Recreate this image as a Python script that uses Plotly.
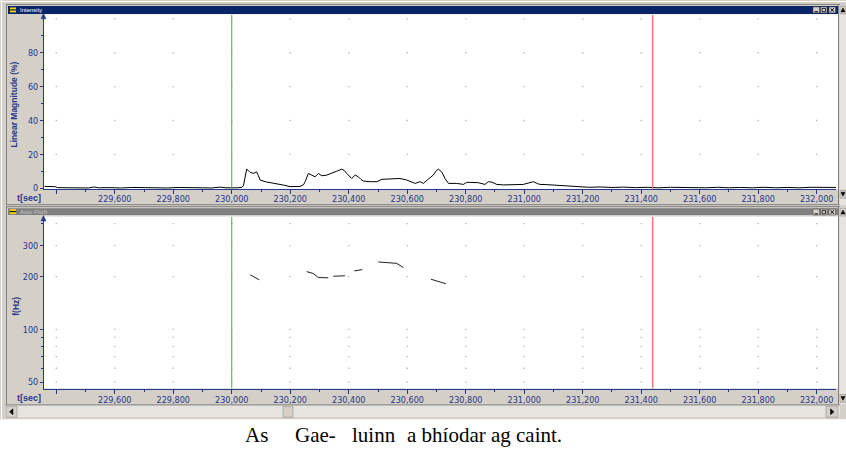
import numpy as np
import plotly.graph_objects as go

# ---------------- data ----------------
intensity_t = [229.360, 229.375, 229.395, 229.405, 229.430, 229.460, 229.480, 229.510, 229.530, 229.545,
               229.580, 229.620, 229.660, 229.700, 229.740, 229.780, 229.820, 229.860, 229.900, 229.930,
               229.960, 229.980, 230.020, 230.035, 230.040, 230.046, 230.051, 230.057, 230.063, 230.074,
               230.085, 230.091, 230.097, 230.114, 230.125, 230.137, 230.150, 230.165, 230.180, 230.199,
               230.215, 230.233, 230.245, 230.251, 230.262, 230.273, 230.285, 230.296, 230.308, 230.325,
               230.342, 230.359, 230.376, 230.385, 230.393, 230.410, 230.422, 230.433, 230.442, 230.450,
               230.473, 230.496, 230.513, 230.541, 230.575, 230.598, 230.615, 230.627, 230.644, 230.655,
               230.672, 230.689, 230.700, 230.706, 230.718, 230.729, 230.741, 230.769, 230.792, 230.803,
               230.815, 230.843, 230.866, 230.877, 230.890, 230.906, 230.930, 230.951, 230.975, 230.997,
               231.015, 231.031, 231.045, 231.054, 231.075, 231.099, 231.120, 231.145, 231.170, 231.191,
               231.220, 231.260, 231.300, 231.340, 231.380, 231.420, 231.460, 231.500, 231.540, 231.580,
               231.620, 231.660, 231.700, 231.740, 231.780, 231.820, 231.860, 231.900, 231.940, 231.980,
               232.020, 232.066]
intensity_pct = [1.1, 1.2, 1.0, 0.4, 0.3, 0.6, 0.3, 0.2, 0.8, 0.3,
                 0.4, 0.2, 0.5, 0.3, 0.4, 0.2, 0.5, 0.3, 0.4, 0.2,
                 0.7, 0.3, 0.3, 0.6, 1.5, 6.5, 11.3, 10.5, 9.4, 8.8,
                 9.7, 7.5, 4.9, 3.9, 3.6, 3.1, 2.8, 2.3, 1.8, 1.0,
                 1.0, 1.1, 2.0, 3.9, 8.8, 7.8, 6.8, 8.8, 7.4, 7.8,
                 8.8, 10.1, 11.3, 10.5, 8.8, 5.8, 7.8, 6.8, 5.2, 4.3,
                 3.9, 3.9, 5.3, 5.4, 5.8, 4.9, 3.9, 2.9, 3.9, 2.9,
                 5.4, 7.8, 10.5, 11.3, 9.7, 5.8, 2.9, 2.9, 2.3, 3.5,
                 3.5, 3.3, 2.3, 3.9, 3.6, 2.3, 2.0, 1.9, 2.2, 2.3,
                 3.0, 3.9, 2.8, 2.3, 2.2, 1.9, 1.6, 1.4, 1.0, 0.8,
                 0.6, 0.8, 0.5, 0.7, 0.4, 0.6, 0.3, 0.6, 0.4, 0.5,
                 0.3, 0.6, 0.3, 0.5, 0.3, 0.6, 0.3, 0.5, 0.3, 0.6,
                 0.4, 0.5]

pitch_t = [230.063, 230.078, 230.094, None,
           230.256, 230.279, 230.296, 230.330, None,
           230.347, 230.387, None,
           230.419, 230.446, None,
           230.501, 230.530, 230.564, 230.587, None,
           230.681, 230.732]
pitch_hz = [204.6, 197.5, 191.6, None,
            213.4, 208.0, 197.5, 196.7, None,
            200.8, 202.0, None,
            215.4, 219.0, None,
            242.2, 239.9, 237.8, 224.9, None,
            193.1, 182.0]

cursor_start = 230.000
cursor_end = 231.439

x_major = [229.4, 229.6, 229.8, 230.0, 230.2, 230.4, 230.6, 230.8, 231.0, 231.2, 231.4, 231.6, 231.8, 232.0]
x_labels = ["", "229,600", "229,800", "230,000", "230,200", "230,400", "230,600", "230,800",
            "231,000", "231,200", "231,400", "231,600", "231,800", "232,000"]
x_minor = [229.5, 229.7, 229.9, 230.1, 230.3, 230.5, 230.7, 230.9, 231.1, 231.3, 231.5, 231.7, 231.9]

int_ticks = [0, 20, 40, 60, 80]
int_minor = [10, 30, 50, 70, 90]
int_grid = [20, 40, 60, 80, 100]

pitch_ticks = [50, 100, 200, 300]
pitch_minor = [60, 70, 80, 90, 400]
pitch_grid = [50, 60, 70, 80, 90, 100, 200, 300, 400]

caption_words = ["As", "Gae-", "luinn", "a bhíodar ag caint."]

# ---------------- layout helpers ----------------
W, H = 846, 450
NAVY = "#26368a"
TFONT = "DejaVu Sans Condensed, Liberation Sans Narrow, Liberation Sans, Arial"
GRAY = "#d4d0c8"
DARK = "#808080"


def px(x):
    return x / W


def py(y):
    return 1 - y / H


shapes = []


def rect(x0, y0, x1, y1, fill, lc=None, lw=0, layer="below"):
    shapes.append(dict(type="rect", xref="paper", yref="paper", x0=px(x0), x1=px(x1),
                       y0=py(y1), y1=py(y0), fillcolor=fill,
                       line=dict(color=lc or fill, width=lw), layer=layer))


def hline(x0, x1, y, color, w=1, layer="below"):
    shapes.append(dict(type="line", xref="paper", yref="paper", x0=px(x0), x1=px(x1),
                       y0=py(y), y1=py(y), line=dict(color=color, width=w), layer=layer))


def vline(x, y0, y1, color, w=1, layer="below"):
    shapes.append(dict(type="line", xref="paper", yref="paper", x0=px(x), x1=px(x),
                       y0=py(y0), y1=py(y1), line=dict(color=color, width=w), layer=layer))


def seg(x0, y0, x1, y1, color, w=1, layer="above"):
    shapes.append(dict(type="line", xref="paper", yref="paper", x0=px(x0), x1=px(x1),
                       y0=py(y0), y1=py(y1), line=dict(color=color, width=w), layer=layer))


def tri(points, color, layer="above"):
    path = "M " + " L ".join(f"{px(a)},{py(b)}" for a, b in points) + " Z"
    shapes.append(dict(type="path", xref="paper", yref="paper", path=path,
                       fillcolor=color, line=dict(color=color, width=0.5), layer=layer))


# window chrome
rect(0, 0, 846, 423, GRAY)
vline(1.5, 0, 423, "#ffffff")
hline(0, 846, 1.5, "#ffffff")
# top panel frame
vline(6.5, 4, 207, DARK)
hline(6, 840, 4.5, DARK)
vline(838.5, 4, 207, DARK)
hline(6, 840, 206.5, DARK)
# bottom panel frame
vline(6.5, 208, 408, DARK)
hline(6, 840, 208.5, DARK)
vline(838.5, 208, 408, DARK)
# title bars
rect(8, 6, 838, 14, "#0a246a")
rect(8, 210, 838, 217, "#808080")
rect(10, 7.5, 16, 12.5, "#f0d000")
rect(10, 211, 16, 216, "#f0d000")
hline(10, 16, 10, "#000000", 1)
hline(10, 16, 213.5, "#000000", 1)
for ty in (7, 211):
    for bx in (813, 820.5, 829):
        rect(bx, ty, bx + 6.5, ty + 6, GRAY, "#404040", 0.5)
    seg(814.5, ty + 4.8, 818, ty + 4.8, "#000000", 1)
    rect(822, ty + 1.5, 825.5, ty + 4.8, GRAY, "#000000", 0.8, layer="above")
    seg(830.5, ty + 1.3, 834, ty + 4.8, "#000000", 1)
    seg(830.5, ty + 4.8, 834, ty + 1.3, "#000000", 1)
# plot inner areas
rect(44, 14.5, 838, 191, "#ffffff")
rect(44, 218.5, 838, 392, "#ffffff")
# right vertical scrollbars
rect(839.5, 5, 846, 207, "#e6e4df")
rect(839.5, 209, 846, 408, "#e6e4df")
rect(840, 6, 846, 14, GRAY, DARK, 0.5)
rect(840, 192, 846, 200, GRAY, DARK, 0.5)
rect(840, 210, 846, 218, GRAY, DARK, 0.5)
rect(840, 398, 846, 406, GRAY, DARK, 0.5)
tri([(843, 8), (841, 12), (845, 12)], "#000000")
tri([(843, 198), (841, 194), (845, 194)], "#000000")
tri([(843, 212), (841, 216), (845, 216)], "#000000")
tri([(843, 404), (841, 400), (845, 400)], "#000000")
# horizontal scrollbar
rect(5, 409, 840, 421, "#e6e4df")
hline(5, 840, 408.5, DARK)
rect(6, 410, 17, 421, GRAY, DARK, 0.5)
rect(826, 410, 838, 421, GRAY, DARK, 0.5)
rect(283, 410, 293, 421, GRAY, DARK, 0.5)
tri([(9.5, 415.5), (13, 412.5), (13, 418.5)], "#000000")
tri([(834, 415.5), (830.5, 412.5), (830.5, 418.5)], "#000000")
# y-axis arrows
tri([(43.5, 13.5), (41, 19), (46, 19)], NAVY)
tri([(43.5, 217.5), (41, 223), (46, 223)], NAVY)

# ---------------- figure ----------------
fig = go.Figure()

fig.add_trace(go.Scatter(x=intensity_t, y=intensity_pct, mode="lines",
                         line=dict(color="#000000", width=1), xaxis="x", yaxis="y",
                         hoverinfo="skip", showlegend=False))
fig.add_trace(go.Scatter(x=pitch_t, y=pitch_hz, mode="lines", connectgaps=False,
                         line=dict(color="#202020", width=1), xaxis="x2", yaxis="y2",
                         hoverinfo="skip", showlegend=False))

gx1, gy1 = np.meshgrid(x_major, int_grid)
fig.add_trace(go.Scatter(x=gx1.ravel(), y=gy1.ravel(), mode="markers",
                         marker=dict(size=1.3, color="#b4b4b4", symbol="square"),
                         xaxis="x", yaxis="y", hoverinfo="skip", showlegend=False))
gx2, gy2 = np.meshgrid(x_major, pitch_grid)
fig.add_trace(go.Scatter(x=gx2.ravel(), y=gy2.ravel(), mode="markers",
                         marker=dict(size=1.3, color="#b4b4b4", symbol="square"),
                         xaxis="x2", yaxis="y2", hoverinfo="skip", showlegend=False))

for xa, ya in (("x", "y"), ("x2", "y2")):
    shapes.append(dict(type="line", xref=xa, yref=f"{ya} domain", x0=cursor_start, x1=cursor_start,
                       y0=0, y1=1, line=dict(color="#4fa44f", width=1), layer="above"))
    shapes.append(dict(type="line", xref=xa, yref=f"{ya} domain", x0=cursor_end, x1=cursor_end,
                       y0=0, y1=1, line=dict(color="#f4767c", width=1.5), layer="above"))

xrange_ = [229.358, 232.066]
xcommon = dict(range=xrange_, domain=[px(44), px(836)], showgrid=False, zeroline=False,
               showline=True, linecolor=NAVY, linewidth=1, ticks="outside", ticklen=4,
               tickcolor=NAVY, tickwidth=1, tickmode="array", tickvals=x_major, ticktext=x_labels,
               tickfont=dict(family=TFONT, size=9, color=NAVY),
               minor=dict(tickmode="array", tickvals=x_minor, ticks="outside", ticklen=2,
                          tickcolor=NAVY, showgrid=False),
               fixedrange=True)
ycommon = dict(showgrid=False, zeroline=False, showline=True, linecolor=NAVY, linewidth=1,
               ticks="outside", ticklen=3, tickcolor=NAVY, tickwidth=1,
               tickfont=dict(family=TFONT, size=9, color=NAVY), fixedrange=True)

# bottom panel: value 50 Hz row and top limits
bot_log_range = [1.6628, 2.6401]

fig.update_layout(
    width=W, height=H, margin=dict(l=0, r=0, t=0, b=0),
    paper_bgcolor="#ffffff", plot_bgcolor="#ffffff", showlegend=False,
    xaxis=dict(xcommon, anchor="y", ticklabelstandoff=-3),
    yaxis=dict(ycommon, domain=[py(191), py(15)], range=[-0.585, 102.34], anchor="x",
               tickmode="array", tickvals=int_ticks, ticktext=[str(v) for v in int_ticks],
               minor=dict(tickmode="array", tickvals=int_minor, ticks="outside", ticklen=2,
                          tickcolor=NAVY, showgrid=False)),
    xaxis2=dict(xcommon, anchor="y2", ticklabelstandoff=-1),
    yaxis2=dict(ycommon, type="log", domain=[py(392), py(219)], range=bot_log_range, anchor="x2",
                tickmode="array", tickvals=pitch_ticks, ticktext=[str(v) for v in pitch_ticks],
                minor=dict(tickmode="array", tickvals=pitch_minor, ticks="outside", ticklen=2,
                           tickcolor=NAVY, showgrid=False)),
    shapes=shapes,
)

ann = []


def label(x, y, text, size=9, color=NAVY, bold=False, anchor="left", angle=0, family="Liberation Sans, Arial"):
    ann.append(dict(xref="paper", yref="paper", x=px(x), y=py(y), text=f"<b>{text}</b>" if bold else text,
                    showarrow=False, xanchor=anchor, yanchor="middle", textangle=angle,
                    font=dict(family=family, size=size, color=color)))


label(43, 199.5, "t[sec]", 9, NAVY, True, "right")
label(43, 402, "t[sec]", 9, NAVY, True, "right")
label(14.5, 106, "Linear Magnitude (%)", 8.5, NAVY, True, "center", -90)
label(16.5, 309, "f(Hz)", 8.5, NAVY, True, "center", -90)
label(18, 10, "Intensity", 6, "#ffffff")
label(18, 213.5, "Auto Pitch", 6, "#c8c8c8")

cap_x = [242.7, 293.3, 350.0, 405.0]
for cx, word in zip(cap_x, caption_words):
    label(cx, 438.5, word, 21, "#000000", False, "left", 0, "Liberation Serif, Times New Roman, serif")

fig.update_layout(annotations=ann)

fig.write_html("out.html")
